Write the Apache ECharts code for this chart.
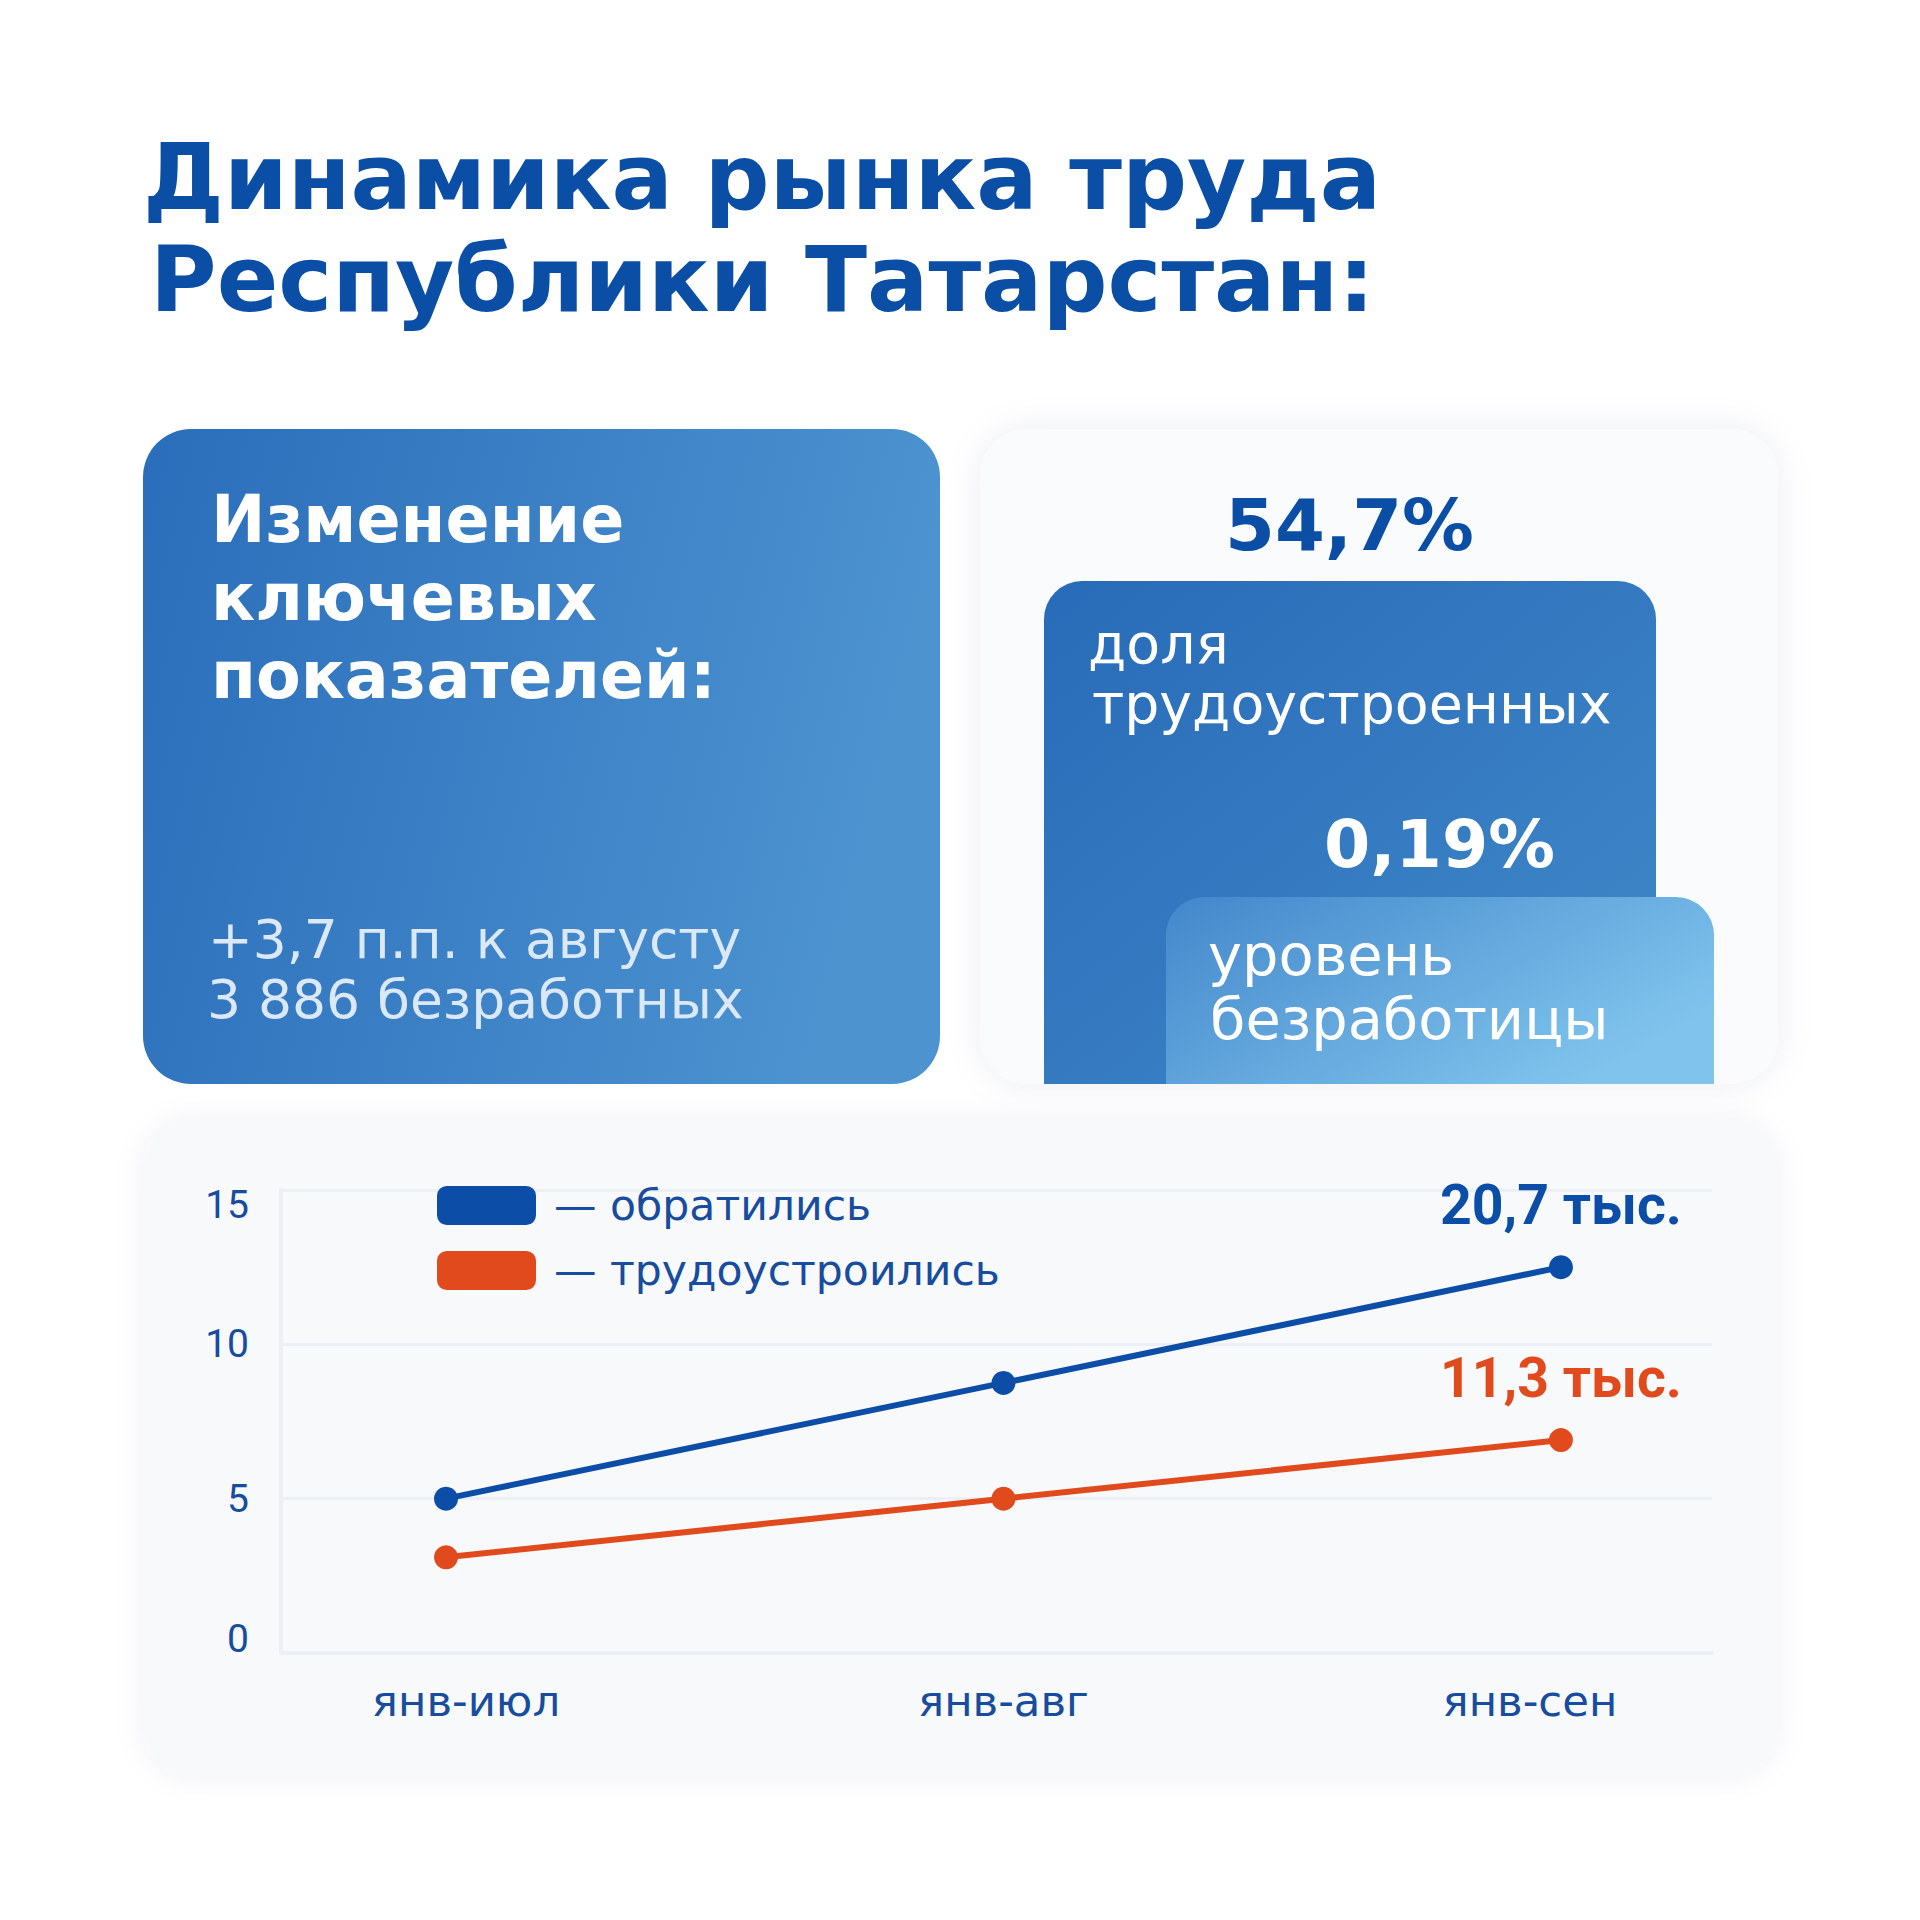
<!DOCTYPE html>
<html><head><meta charset="utf-8">
<script src="https://cdn.jsdelivr.net/npm/echarts@6/dist/echarts.min.js"></script>
<style>html,body{margin:0;padding:0;background:#ffffff}#c{width:1920px;height:1920px}</style>
</head><body><div id="c"></div>
<script>
// ---- content / data ----
const titleLines = ['Динамика рынка труда', 'Республики Татарстан:'];
const cardHeading = ['Изменение', 'ключевых', 'показателей:'];
const cardNotes = ['+3,7 п.п. к августу', '3 886 безработных'];
const shareValue = '54,7%';
const shareCaption = ['доля', 'трудоустроенных'];
const unemploymentValue = '0,19%';
const unemploymentCaption = ['уровень', 'безработицы'];
const categories = ['янв-июл', 'янв-авг', 'янв-сен'];
const seriesNames = ['обратились', 'трудоустроились'];
const appliedValues = [5.0, 8.75, 12.5];
const employedValues = [3.1, 5.0, 6.9];
const endLabels = ['20,7 тыс.', '11,3 тыс.'];
const yMin = 0, yMax = 15, yStep = 5;

// ---- styling ----
const FONT = '"DejaVu Sans", sans-serif';
const FONT2 = 'Roboto, "DejaVu Sans", sans-serif';
const DARK = '#0a4ea5';
const AXIS_TXT = '#174c9e';
const BLUE = '#0b4da7';
const ORANGE = '#e04a1c';
const GRIDC = '#ecf0f6';

const cv = document.createElement('canvas').getContext('2d');
function fit(text, weight, width, fam) {
  cv.font = weight + ' 100px ' + (fam || FONT);
  return 100 * width / cv.measureText(text).width;
}
function avg(a) { return a.reduce((s, v) => s + v, 0) / a.length; }

const sTitle = avg([fit(titleLines[0], 'bold', 1238), fit(titleLines[1], 'bold', 1225)]);
const sHead = avg([fit(cardHeading[0], 'bold', 428), fit(cardHeading[1], 'bold', 382), fit(cardHeading[2], 'bold', 492)]);
const sNote = avg([fit(cardNotes[0], 'normal', 509), fit(cardNotes[1], 'normal', 561)]);
const sShare = fit(shareValue, 'bold', 249);
const sShareCap = avg([fit(shareCaption[0], 'normal', 141), fit(shareCaption[1], 'normal', 519)]);
const sUnemp = fit(unemploymentValue, 'bold', 231);
const sUnempCap = avg([fit(unemploymentCaption[0], 'normal', 249), fit(unemploymentCaption[1], 'normal', 394)]);
const sY = 39;
const sX = avg([fit(categories[0], 'normal', 188), fit(categories[1], 'normal', 170), fit(categories[2], 'normal', 176)]);
const sLeg = avg([fit('— ' + seriesNames[0], 'normal', 320), fit('— ' + seriesNames[1], 'normal', 442)]);
const sEnd = avg([fit(endLabels[0], 'bold', 257, FONT2), fit(endLabels[1], 'bold', 227, FONT2)]);

function txt(text, x, baseline, size, weight, color) {
  return {
    type: 'text', z: 10,
    style: {
      text: text, x: x, y: baseline - 0.36 * size,
      fontSize: size, fontWeight: weight, fontFamily: FONT, fill: color,
      textAlign: 'left', align: 'left', textVerticalAlign: 'middle', verticalAlign: 'middle'
    }
  };
}

const graphics = [
  { type: 'rect', z: -5, shape: { x: 143, y: 429, width: 797, height: 655, r: 48 },
    style: { fill: { type: 'linear', x: 0, y: 0, x2: 1, y2: 0.2, colorStops: [{ offset: 0, color: '#2a6dba' }, { offset: 1, color: '#4c93d0' }] } } },
  { type: 'rect', z: -5, shape: { x: 980, y: 429, width: 798, height: 655, r: 48 },
    style: { fill: '#fafbfd', shadowBlur: 36, shadowColor: 'rgba(30,60,120,0.07)' } },
  { type: 'rect', z: -4, shape: { x: 1044, y: 581, width: 612, height: 503, r: [38, 38, 0, 0] },
    style: { fill: { type: 'linear', x: 0, y: 0, x2: 1, y2: 1, colorStops: [{ offset: 0, color: '#286bb8' }, { offset: 1, color: '#4189c9' }] } } },
  { type: 'rect', z: -3, shape: { x: 1166, y: 897, width: 548, height: 187, r: [38, 38, 0, 0] },
    style: { fill: { type: 'linear', x: 0, y: 0, x2: 1, y2: 0.6, colorStops: [{ offset: 0, color: '#4387cb' }, { offset: 1, color: '#80c4ed' }] } } },
  { type: 'rect', z: -5, shape: { x: 143, y: 1120, width: 1635, height: 656, r: 48 },
    style: { fill: '#f8f9fb', shadowBlur: 30, shadowColor: 'rgba(30,60,120,0.06)' } },

  txt(titleLines[0], 143, 210, sTitle, 'bold', DARK),
  txt(titleLines[1], 150, 312, sTitle, 'bold', DARK),

  txt(cardHeading[0], 211, 543, sHead, 'bold', '#ffffff'),
  txt(cardHeading[1], 211, 621, sHead, 'bold', '#ffffff'),
  txt(cardHeading[2], 211, 699, sHead, 'bold', '#ffffff'),
  txt(cardNotes[0], 208, 959, sNote, 'normal', '#dbe8f7'),
  txt(cardNotes[1], 207, 1019, sNote, 'normal', '#dbe8f7'),

  txt(shareValue, 1225, 551, sShare, 'bold', DARK),
  txt(shareCaption[0], 1088, 664, sShareCap, 'normal', '#ffffff'),
  txt(shareCaption[1], 1092, 724, sShareCap, 'normal', '#ffffff'),
  txt(unemploymentValue, 1324, 868, sUnemp, 'bold', '#ffffff'),
  txt(unemploymentCaption[0], 1208, 976, sUnempCap, 'normal', '#ffffff'),
  txt(unemploymentCaption[1], 1210, 1040, sUnempCap, 'normal', '#ffffff')
];

function buildData(values, k) {
  return values.map((v, i) => {
    if (i === values.length - 1) {
      return {
        value: [i, v],
        label: { show: true, position: 'inside', offset: [0, -62], formatter: endLabels[k],
          fontSize: sEnd, fontWeight: 'bold', fontFamily: FONT2, color: k === 0 ? BLUE : ORANGE }
      };
    }
    return [i, v];
  });
}

const chart = echarts.init(document.getElementById('c'), null, { renderer: 'svg' });
chart.setOption({
  backgroundColor: '#ffffff',
  animation: false,
  graphic: graphics,
  grid: { left: 281, right: 208, top: 1190, bottom: 267 },
  legend: {
    data: seriesNames, orient: 'vertical', left: 432, top: 1179,
    itemWidth: 99, itemHeight: 39, itemGap: 22, icon: 'roundRect', selectedMode: false,
    formatter: name => '{t|— ' + name + '}',
    textStyle: { fontFamily: FONT, fontSize: sLeg, color: AXIS_TXT,
      rich: { t: { fontFamily: FONT, fontSize: sLeg, color: AXIS_TXT, padding: [0, 0, 0, 13], lineHeight: 39 } } }
  },
  xAxis: {
    type: 'value', min: -0.296, max: 2.271,
    axisLine: { show: true, onZero: false, lineStyle: { color: GRIDC, width: 4 } },
    axisTick: { show: false }, splitLine: { show: false },
    axisLabel: {
      customValues: [0, 1, 2], margin: 26,
      formatter: v => {
        const i = Math.round(v);
        const key = i === 0 ? 'a' : (i === categories.length - 1 ? 'c' : 'b');
        return '{' + key + '|' + categories[i] + '}';
      },
      rich: {
        a: { fontFamily: FONT, fontSize: sX, color: AXIS_TXT, padding: [0, 0, 0, 40] },
        b: { fontFamily: FONT, fontSize: sX, color: AXIS_TXT },
        c: { fontFamily: FONT, fontSize: sX, color: AXIS_TXT, padding: [0, 62, 0, 0] }
      }
    }
  },
  yAxis: {
    type: 'value', min: yMin, max: yMax, interval: yStep,
    axisLine: { show: true, onZero: false, lineStyle: { color: GRIDC, width: 4 } },
    axisTick: { show: false },
    splitLine: { show: true, lineStyle: { color: GRIDC, width: 3 } },
    axisLabel: {
      margin: 32,
      formatter: v => (v === yMax ? '{top|' + v + '}' : (v === yMin ? '{bot|' + v + '}' : '{n|' + v + '}')),
      rich: {
        n: { fontFamily: FONT2, fontSize: sY, color: AXIS_TXT },
        top: { fontFamily: FONT2, fontSize: sY, color: AXIS_TXT, padding: [30, 0, 0, 0] },
        bot: { fontFamily: FONT2, fontSize: sY, color: AXIS_TXT, padding: [0, 0, 28, 0] }
      }
    }
  },
  series: [
    { type: 'line', name: seriesNames[0], data: buildData(appliedValues, 0), z: 4,
      symbol: 'circle', symbolSize: 24, lineStyle: { width: 6, color: BLUE }, itemStyle: { color: BLUE } },
    { type: 'line', name: seriesNames[1], data: buildData(employedValues, 1), z: 4,
      symbol: 'circle', symbolSize: 24, lineStyle: { width: 6, color: ORANGE }, itemStyle: { color: ORANGE } }
  ]
});
</script></body></html>
